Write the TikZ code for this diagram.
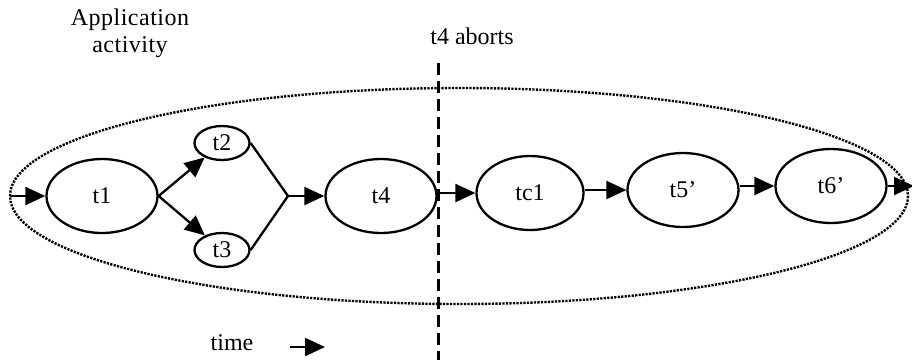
\documentclass[tikz,border=0pt]{standalone}
\usepackage{fontspec}
\setmainfont{Liberation Serif}
\usetikzlibrary{shapes.geometric,arrows.meta}
\begin{document}
\begin{tikzpicture}[x=1pt,y=-1pt,
  task/.style={draw,ellipse,line width=2.3pt,inner sep=0pt,font=\fontsize{24}{27}\selectfont},
  big/.style={task,minimum width=111pt,minimum height=74pt},
  small/.style={task,minimum width=55pt,minimum height=34pt},
  arr/.style={line width=2.3pt,-{Triangle[length=20pt,width=18pt]}},
  conn/.style={line width=2.3pt},
  lbl/.style={font=\fontsize{24}{27}\selectfont,align=center}]
\useasboundingbox (0,0) rectangle (912,360);
\draw[line width=2.4pt,dash pattern=on 2.2pt off 1.3pt] (459,196) ellipse [x radius=449, y radius=108];
\draw[line width=3pt,dash pattern=on 12pt off 6pt] (438,63) coordinate (dtop) -- (438,360) coordinate (dbot);
\node[lbl,font=\fontsize{24}{27}\selectfont\addfontfeatures{LetterSpace=2}] (app) at (130,33) {Application\\activity};
\node[lbl] (abort) at (472,36) {t4 aborts};
\node[lbl] (time) at (232,343) {time};
\coordinate (ts) at (290,347);
\coordinate (te) at (325,347);
\draw[arr] (ts) -- (te);
\node[big] (t1) at (102,196) {t1};
\node[small] (t2) at (222,143) {t2};
\node[small] (t3) at (222,250) {t3};
\coordinate (j) at (288,196);
\node[big] (t4) at (381,196) {t4};
\node[big,minimum width=107pt] (tc1) at (530,193) {tc1};
\node[big] (t5) at (683,190) {t5’};
\node[big] (t6) at (831,186) {t6’};
\coordinate (in) at (10,196);
\coordinate (out) at (914,186);
\draw[arr] (in) -- (t1.west);
\draw[arr] (t1.east) -- (t2);
\draw[arr] (t1.east) -- (t3);
\draw[conn] (t2.east) -- (j);
\draw[conn] (t3.east) -- (j);
\draw[arr] (j) -- (t4.west);
\draw[arr] (t4.east |- tc1) -- (tc1.west);
\draw[arr] (tc1.east |- t5) -- (t5.west);
\draw[arr] (t5.east |- t6) -- (t6.west);
\draw[arr] (t6.east) -- (out);
\end{tikzpicture}
\end{document}
